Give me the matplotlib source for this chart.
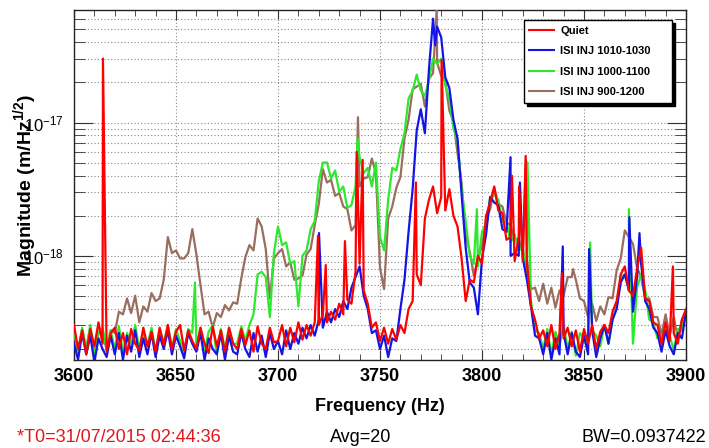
import numpy as np
import matplotlib
matplotlib.use("Agg")
import matplotlib.pyplot as plt
from matplotlib.ticker import FixedLocator, FixedFormatter, NullFormatter, MultipleLocator

plt.rcParams["font.family"] = ["Liberation Sans", "DejaVu Sans"]
plt.rcParams["mathtext.fontset"] = "custom"
plt.rcParams["mathtext.rm"] = "Liberation Sans"
plt.rcParams["mathtext.bf"] = "Liberation Sans:bold"
plt.rcParams["mathtext.default"] = "regular"

# ----------------------------------------
# data (log10 of magnitude, 2 Hz grid)
# ----------------------------------------
freq = np.arange(3600, 3901, 2)

quiet = [
    -18.52, -18.70, -18.56, -18.74, -18.55, -18.68, -18.50, -18.66, -18.72, -18.58,
    -18.54, -18.70, -18.58, -18.74, -18.55, -18.66, -18.71, -18.54, -18.68, -18.57,
    -18.72, -18.54, -18.67, -18.52, -18.70, -18.57, -18.52, -18.71, -18.56, -18.64,
    -18.70, -18.54, -18.66, -18.73, -18.53, -18.68, -18.56, -18.72, -18.54, -18.66,
    -18.70, -18.55, -18.67, -18.56, -18.72, -18.53, -18.66, -18.70, -18.54, -18.65,
    -18.64, -18.52, -18.68, -18.54, -18.65, -18.50, -18.63, -18.52, -18.60, -18.50,
    -18.52, -18.44, -18.50, -18.42, -18.48, -18.36, -18.44, -18.33, -18.36, -18.12,
    -18.06, -18.26, -18.36, -18.54, -18.50, -18.64, -18.54, -18.66, -18.55, -18.63,
    -18.52, -18.58, -18.40, -18.34, -18.14, -18.22, -17.72, -17.58, -17.48, -17.68,
    -17.56, -17.66, -17.50, -17.70, -17.78, -18.02, -18.34, -18.18, -18.20, -18.00,
    -18.06, -17.70, -17.60, -17.48, -17.66, -17.68, -17.88, -17.86, -18.04, -17.86,
    -18.04, -18.06, -18.38, -18.48, -18.62, -18.56, -18.68, -18.52, -18.70, -18.58,
    -18.62, -18.54, -18.68, -18.56, -18.72, -18.55, -18.66, -18.52, -18.70, -18.57,
    -18.52, -18.58, -18.42, -18.34, -18.14, -18.08, -18.26, -18.30, -18.10, -17.94,
    -18.32, -18.34, -18.50, -18.52, -18.66, -18.50, -18.64, -18.58, -18.66, -18.48,
    -18.40,
]
quiet_spike_f = [3614.2, 3719.6, 3723.4, 3732.8, 3738.6, 3741.5, 3767.6, 3780.2,
                 3814.7, 3818.2, 3821.4, 3839.2, 3893.6]
quiet_spike_v = [-16.52, -17.85, -18.07, -17.89, -17.22, -17.28, -17.45, -16.53,
                 -17.40, -17.48, -17.25, -18.13, -18.08]

inj_1010 = [
    -18.66, -18.78, -18.58, -18.74, -18.60, -18.80, -18.62, -18.70, -18.76, -18.60,
    -18.74, -18.58, -18.78, -18.60, -18.72, -18.56, -18.76, -18.62, -18.74, -18.58,
    -18.76, -18.60, -18.70, -18.56, -18.74, -18.60, -18.68, -18.77, -18.58, -18.66,
    -18.72, -18.58, -18.78, -18.62, -18.70, -18.74, -18.58, -18.78, -18.60, -18.72,
    -18.74, -18.58, -18.70, -18.76, -18.58, -18.72, -18.60, -18.76, -18.58, -18.70,
    -18.64, -18.74, -18.56, -18.70, -18.58, -18.66, -18.54, -18.62, -18.52, -18.60,
    -18.48, -18.54, -18.42, -18.50, -18.40, -18.46, -18.34, -18.40, -18.24, -18.16,
    -18.08, -18.30, -18.40, -18.58, -18.56, -18.70, -18.60, -18.76, -18.62, -18.64,
    -18.40, -18.18, -17.82, -17.50, -17.06, -16.90, -17.08, -16.60, -16.22, -16.28,
    -16.36, -16.66, -16.74, -16.98, -17.12, -17.54, -17.94, -18.20, -18.24, -18.44,
    -18.02, -17.84, -17.56, -17.60, -17.62, -17.80, -17.82, -18.00, -17.98, -18.00,
    -18.02, -18.18, -18.38, -18.60, -18.62, -18.74, -18.58, -18.78, -18.62, -18.74,
    -18.58, -18.74, -18.58, -18.72, -18.76, -18.60, -18.74, -18.56, -18.76, -18.62,
    -18.52, -18.66, -18.48, -18.40, -18.20, -18.14, -18.26, -18.42, -18.16, -18.06,
    -18.34, -18.40, -18.54, -18.58, -18.72, -18.56, -18.68, -18.74, -18.58, -18.62,
    -18.42,
]
inj_1010_spike_f = [3720.1, 3777.0, 3814.0, 3818.6, 3839.6, 3852.5, 3872.2, 3877.2]
inj_1010_spike_v = [-17.83, -16.42, -17.26, -17.45, -17.93, -17.95, -17.71, -17.83]

inj_1000 = [
    -18.56, -18.72, -18.54, -18.70, -18.52, -18.74, -18.58, -18.54, -18.70, -18.56,
    -18.70, -18.53, -18.72, -18.58, -18.66, -18.52, -18.70, -18.57, -18.67, -18.54,
    -18.72, -18.55, -18.66, -18.52, -18.70, -18.55, -18.64, -18.73, -18.55, -18.58,
    -18.68, -18.54, -18.72, -18.57, -18.52, -18.74, -18.55, -18.70, -18.54, -18.66,
    -18.66, -18.53, -18.64, -18.52, -18.44, -18.14, -18.12, -18.16, -18.46, -17.98,
    -17.78, -17.92, -17.90, -18.06, -18.04, -18.38, -18.00, -17.96, -17.80, -17.74,
    -17.44, -17.30, -17.30, -17.42, -17.36, -17.52, -17.48, -17.64, -17.62, -17.48,
    -17.26, -17.38, -17.34, -17.48, -17.30, -17.86, -17.96, -17.58, -17.34, -17.36,
    -17.20, -17.08, -16.82, -16.76, -16.64, -16.76, -16.80, -16.68, -16.52, -16.56,
    -16.52, -16.72, -16.82, -17.04, -17.14, -17.50, -17.74, -18.00, -18.06, -18.08,
    -17.82, -17.76, -17.56, -17.54, -17.58, -17.74, -17.74, -17.90, -17.84, -17.96,
    -17.94, -18.14, -18.34, -18.56, -18.58, -18.70, -18.55, -18.74, -18.57, -18.68,
    -18.52, -18.70, -18.57, -18.75, -18.58, -18.62, -18.71, -18.56, -18.60, -18.68,
    -18.52, -18.66, -18.48, -18.38, -18.16, -18.14, -18.22, -18.66, -18.24, -18.14,
    -18.26, -18.48, -18.50, -18.62, -18.60, -18.58, -18.60, -18.71, -18.55, -18.56,
    -18.42,
]
inj_1000_spike_f = [3659.3, 3739.0, 3797.5, 3822.3, 3853.0, 3872.0]
inj_1000_spike_v = [-18.20, -17.12, -17.65, -17.30, -17.90, -17.65]

inj_900 = [
    -18.58, -18.72, -18.56, -18.70, -18.54, -18.74, -18.57, -18.60, -18.70, -18.56,
    -18.58, -18.42, -18.44, -18.32, -18.43, -18.30, -18.50, -18.38, -18.42, -18.28,
    -18.34, -18.32, -18.18, -17.86, -17.98, -17.96, -18.02, -18.02, -17.98, -17.80,
    -17.99, -18.22, -18.44, -18.42, -18.54, -18.43, -18.46, -18.37, -18.41, -18.35,
    -18.36, -18.17, -18.01, -17.92, -17.96, -17.72, -17.78, -17.95, -18.32, -18.02,
    -17.98, -17.95, -18.08, -18.05, -18.18, -18.17, -18.15, -17.99, -17.95, -17.77,
    -17.61, -17.35, -17.45, -17.43, -17.55, -17.53, -17.63, -17.65, -17.81, -17.77,
    -17.48, -17.42, -17.41, -17.27, -17.38, -18.09, -18.25, -17.72, -17.63, -17.49,
    -17.41, -17.12, -16.98, -16.75, -16.73, -16.71, -16.88, -16.67, -16.63, -16.55,
    -16.65, -16.69, -16.91, -16.99, -17.23, -17.45, -17.85, -17.97, -18.15, -18.02,
    -17.93, -17.72, -17.65, -17.49, -17.61, -17.63, -17.75, -17.77, -17.88, -17.87,
    -17.98, -18.02, -18.25, -18.24, -18.34, -18.21, -18.36, -18.24, -18.39, -18.26,
    -18.30, -18.16, -18.16, -18.18, -18.32, -18.34, -18.46, -18.36, -18.49, -18.38,
    -18.44, -18.31, -18.32, -18.11, -18.02, -17.81, -17.86, -17.91, -18.09, -18.16,
    -18.32, -18.32, -18.46, -18.46, -18.59, -18.44, -18.60, -18.46, -18.62, -18.48,
    -18.42,
]
inj_900_spike_f = [3739.2, 3777.8, 3821.6, 3844.6]
inj_900_spike_v = [-16.96, -16.15, -17.28, -18.10]

labels = ["Quiet", "ISI INJ 1010-1030", "ISI INJ 1000-1100", "ISI INJ 900-1200"]
colors = ["#ff0000", "#1414e6", "#2ee82e", "#9a6e5e"]

y_ticks = [1e-18, 1e-17]
y_tick_labels = [r"$10^{-18}$", r"$10^{-17}$"]


def merge(base, spike_f, spike_v):
    f = np.concatenate([freq, spike_f])
    v = np.concatenate([base, spike_v])
    order = np.argsort(f)
    return f[order], 10.0 ** v[order]


series = [
    merge(quiet, quiet_spike_f, quiet_spike_v),
    merge(inj_1010, inj_1010_spike_f, inj_1010_spike_v),
    merge(inj_1000, inj_1000_spike_f, inj_1000_spike_v),
    merge(inj_900, inj_900_spike_f, inj_900_spike_v),
]

# ----------------------------------------
# figure
# ----------------------------------------
fig = plt.figure(figsize=(7.09, 4.48), dpi=100)
ax = fig.add_axes([74 / 709, 88 / 448, 612 / 709, 350 / 448])

# brown at the back, red on top
lines = {}
for i in [3, 2, 1, 0]:
    f, v = series[i]
    (ln,) = ax.plot(f, v, color=colors[i], lw=1.6, label=labels[i], zorder=3 + (3 - i))
    lines[i] = ln

ax.set_yscale("log")
ax.set_xlim(3600, 3900)
ax.set_ylim(1.65e-19, 7.0e-17)

ax.xaxis.set_major_locator(MultipleLocator(50))
ax.xaxis.set_minor_locator(MultipleLocator(10))
ax.yaxis.set_major_locator(FixedLocator(y_ticks))
ax.yaxis.set_major_formatter(FixedFormatter(y_tick_labels))
minor_y = [m * 10.0 ** e for e in (-19, -18, -17) for m in range(2, 10)]
ax.yaxis.set_minor_locator(FixedLocator(minor_y))
ax.yaxis.set_minor_formatter(NullFormatter())

ax.grid(which="major", axis="x", ls=(0, (1, 2)), color="#888888", lw=0.8)
ax.grid(which="both", axis="y", ls=(0, (1, 2)), color="#888888", lw=0.8)
ax.set_axisbelow(True)

ax.tick_params(which="both", direction="in", top=True, right=True, color="#333333")
ax.tick_params(axis="x", which="major", length=7, labelsize=13, pad=6)
ax.tick_params(axis="x", which="minor", length=4)
ax.tick_params(axis="y", which="major", length=14, labelsize=12, pad=7)
ax.tick_params(axis="y", which="minor", length=8)
for lab in ax.get_xticklabels():
    lab.set_fontweight("bold")
for sp in ax.spines.values():
    sp.set_linewidth(1.0)
    sp.set_color("#222222")

ax.set_xlabel("Frequency (Hz)", fontsize=13, fontweight="bold", va="center")
ax.xaxis.set_label_coords(0.5, -0.134)
ax.set_ylabel(r"Magnitude (m/Hz$^{\mathbf{1/2}}$)", fontsize=14, fontweight="bold",
              va="center", ha="center")
ax.yaxis.set_label_coords(-0.080, 0.5)

handles = [lines[i] for i in range(4)]
leg = ax.legend(
    handles, labels,
    loc="upper left",
    bbox_to_anchor=(0.735, 0.723, 0.242, 0.248),
    mode="expand",
    borderaxespad=0,
    prop={"weight": "bold", "size": 8},
    handlelength=2.25,
    handletextpad=0.55,
    labelspacing=0.95,
    borderpad=0.5,
    fancybox=False,
    framealpha=1,
    edgecolor="black",
    shadow={"color": "black", "alpha": 1},
)
leg.get_frame().set_linewidth(1.0)
for ln in leg.get_lines():
    ln.set_linewidth(1.5)
leg.set_zorder(10)

# footer
fig.text(17 / 709, 1 - 437 / 448, "*T0=31/07/2015 02:44:36", color="#e0181e",
         fontsize=13, ha="left", va="center")
fig.text(330 / 709, 1 - 437 / 448, "Avg=20", fontsize=13, ha="left", va="center")
fig.text(706 / 709, 1 - 437 / 448, "BW=0.0937422", fontsize=13, ha="right", va="center")

fig.savefig("out.png", dpi=100)
